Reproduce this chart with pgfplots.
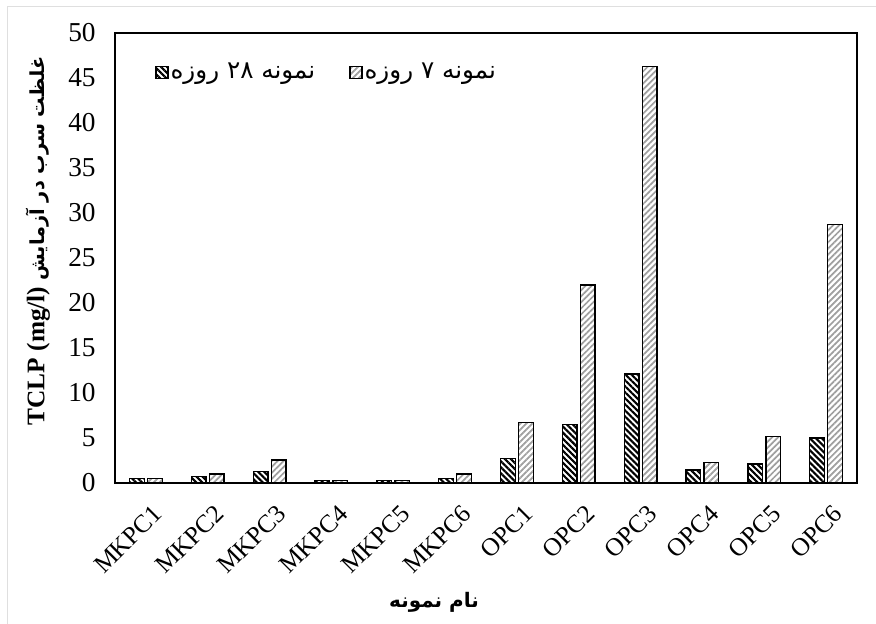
\documentclass[border=0pt]{standalone}
\usepackage{fontspec}
\setmainfont{Liberation Serif}
\newfontfamily\arabicfont[Script=Arabic]{DejaVu Sans}
\TeXXeTstate=1
\usepackage{pgfplots}
\usepackage{pgfplotstable}
\pgfplotsset{compat=1.18}
\usetikzlibrary{patterns.meta}

\pgfplotstableread{
x a b
0 0.5 0.5
1 0.75 1.0
2 1.25 2.55
3 0.3 0.3
4 0.3 0.3
5 0.5 1.0
6 2.75 6.75
7 6.5 22.0
8 12.1 46.3
9 1.45 2.3
10 2.1 5.2
11 5.0 28.7
}\data

\begin{document}
\begin{tikzpicture}[x=0.75pt,y=0.75pt]
\useasboundingbox (0,0) rectangle (876,624);
\draw[gray!25, line width=1.2pt] (7.5,0) -- (7.5,617.3) -- (876,617.3);
\begin{axis}[
  at={(86.25pt,105.75pt)}, anchor=south west,
  scale only axis, width=556.5pt, height=337.5pt,
  xmin=-0.5, xmax=11.5, ymin=0, ymax=50,
  ytick={0,5,...,50},
  xtick={0,...,11},
  xticklabels={MKPC1,MKPC2,MKPC3,MKPC4,MKPC5,MKPC6,OPC1,OPC2,OPC3,OPC4,OPC5,OPC6},
  major tick length=0pt,
  axis line style={line width=1.2pt},
  yticklabel style={font=\fontsize{20.5}{23}\selectfont, xshift=-11pt},
  /pgf/number format/assume math mode=true,
  xticklabel style={font=\fontsize{19}{22}\selectfont, xshift=4.5pt, yshift=-15pt, rotate=45, anchor=north east, inner sep=0pt},
  legend style={at={(0.054,0.913)}, anchor=west, draw=none, fill=none, inner sep=0pt,
    legend columns=2, font=\fontsize{18.5}{21}\selectfont,
    nodes={inner sep=1.5pt},
    /tikz/every even column/.append style={column sep=24pt}},
  legend image code/.code={\draw[#1] (0pt,-4.5pt) rectangle (9pt,4.5pt);},
]
\addplot[ybar, bar width=11pt, bar shift=-6.75pt, draw=black, line width=0.9pt,
  pattern color=black, pattern={Lines[angle=-45, distance=3.2pt, line width=1.6pt]}]
  table[x=x,y=a]{\data};
\addlegendentry{\arabicfont\beginR نمونه ۲۸ روزه\endR}
\addplot[ybar, bar width=11pt, bar shift=6.75pt, draw=black, line width=0.9pt,
  pattern color=gray!75, pattern={Lines[angle=45, distance=3.2pt, line width=1.3pt]}]
  table[x=x,y=b]{\data};
\addlegendentry{\arabicfont\beginR نمونه ۷ روزه\endR}
\end{axis}
\node[rotate=90, font=\fontsize{19}{22}\selectfont\bfseries] at (38,383)
  {TCLP (mg/l) {\arabicfont\fontsize{14.5}{17}\selectfont\bfseries\beginR غلظت سرب در آزمایش\endR}};
\node[font=\fontsize{15}{18}\selectfont\bfseries] at (434,22)
  {\arabicfont\bfseries\beginR نام نمونه\endR};
\end{tikzpicture}
\end{document}
